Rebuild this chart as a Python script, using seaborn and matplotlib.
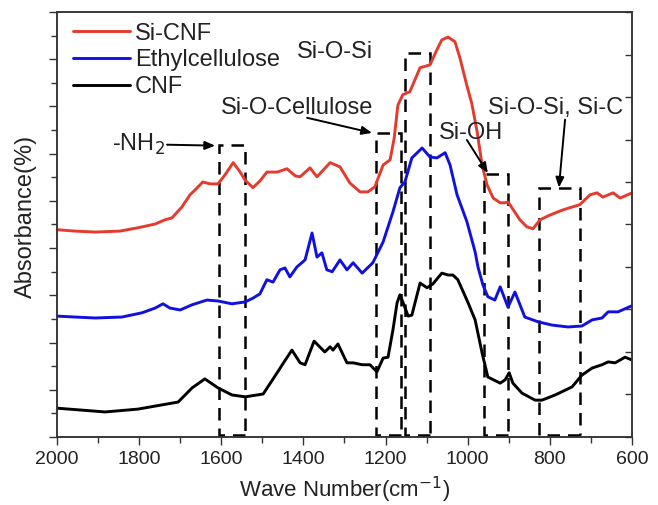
import numpy as np
import pandas as pd
import matplotlib
matplotlib.use('Agg')
import matplotlib.pyplot as plt
import seaborn as sns
from matplotlib.patches import Rectangle
from matplotlib.ticker import MultipleLocator, NullFormatter

# spectra (wavenumber in cm-1, absorbance in arbitrary offset units)
sicnf_wn = [2000, 1956, 1907, 1847, 1803, 1761, 1737, 1720, 1696, 1676, 1664, 1645, 1627, 1608,
            1591, 1571, 1554, 1542, 1523, 1506, 1489, 1464, 1440, 1420, 1408, 1384, 1367, 1335,
            1311, 1287, 1262, 1243, 1226, 1206, 1189, 1179, 1170, 1158, 1141, 1116, 1092, 1075,
            1063, 1048, 1031, 1019, 1002, 990, 977, 965, 953, 938, 921, 909, 902, 892, 873, 856,
            841, 824, 800, 768, 727, 702, 685, 671, 646, 629, 600]
sicnf_abs = [4.39, 4.36, 4.34, 4.36, 4.43, 4.51, 4.60, 4.64, 4.87, 5.13, 5.23, 5.40, 5.36, 5.36,
             5.55, 5.81, 5.61, 5.44, 5.28, 5.42, 5.61, 5.61, 5.68, 5.53, 5.51, 5.70, 5.51, 5.81,
             5.72, 5.38, 5.19, 5.19, 5.30, 5.76, 5.87, 6.33, 7.03, 7.25, 7.31, 7.82, 7.88, 8.20,
             8.41, 8.47, 8.37, 8.03, 7.44, 7.06, 6.46, 5.76, 5.34, 5.06, 4.96, 4.96, 4.98, 4.85,
             4.60, 4.45, 4.41, 4.60, 4.70, 4.81, 4.92, 5.13, 5.17, 5.08, 5.17, 5.06, 5.17]

ethyl_wn = [2000, 1956, 1907, 1842, 1793, 1761, 1742, 1725, 1700, 1671, 1635, 1608, 1574, 1542,
            1523, 1506, 1489, 1474, 1457, 1445, 1433, 1416, 1396, 1379, 1367, 1355, 1343, 1330,
            1311, 1294, 1279, 1257, 1231, 1206, 1182, 1165, 1153, 1136, 1111, 1092, 1075, 1055,
            1043, 1026, 1002, 982, 975, 963, 951, 934, 921, 902, 885, 861, 829, 795, 756, 722,
            697, 673, 658, 634, 600]
ethyl_abs = [2.56, 2.54, 2.52, 2.54, 2.63, 2.73, 2.82, 2.73, 2.69, 2.80, 2.90, 2.88, 2.82, 2.86,
             2.94, 3.03, 3.33, 3.28, 3.54, 3.58, 3.39, 3.60, 3.75, 4.32, 3.81, 3.90, 3.54, 3.50,
             3.75, 3.54, 3.69, 3.47, 3.69, 4.13, 4.77, 5.28, 5.40, 5.91, 6.12, 5.93, 5.91, 6.02,
             5.76, 5.13, 4.56, 3.92, 3.60, 3.22, 2.97, 2.90, 3.18, 2.75, 3.07, 2.54, 2.44, 2.37,
             2.33, 2.35, 2.48, 2.52, 2.65, 2.65, 2.78]

cnf_wn = [2000, 1883, 1803, 1705, 1671, 1640, 1608, 1574, 1542, 1498, 1464, 1450, 1428, 1408,
          1396, 1374, 1348, 1335, 1328, 1316, 1294, 1279, 1257, 1238, 1221, 1206, 1194, 1182,
          1172, 1165, 1158, 1145, 1136, 1116, 1099, 1085, 1063, 1048, 1036, 1024, 999, 982, 965,
          951, 921, 909, 899, 890, 868, 836, 819, 787, 746, 722, 697, 673, 658, 641, 617, 600]
cnf_abs = [0.61, 0.53, 0.59, 0.74, 1.04, 1.23, 1.04, 0.89, 0.85, 0.91, 1.36, 1.55, 1.84, 1.57,
           1.53, 2.03, 1.80, 1.91, 1.84, 1.97, 1.57, 1.57, 1.53, 1.53, 1.38, 1.67, 1.69, 2.27,
           2.84, 3.01, 2.86, 2.56, 2.58, 3.26, 3.16, 3.24, 3.47, 3.43, 3.43, 3.33, 2.84, 2.48,
           1.78, 1.27, 1.14, 1.21, 1.36, 1.14, 0.93, 0.78, 0.78, 0.89, 1.06, 1.31, 1.46, 1.53,
           1.59, 1.57, 1.69, 1.63]

# dashed band boxes: high wavenumber, low wavenumber, top
band_hi = [1605, 1223, 1153, 960, 826]
band_lo = [1542, 1162, 1092, 902, 727]
band_top = [6.19, 6.44, 8.14, 5.57, 5.28]

labels = ['-NH$_2$', 'Si-O-Cellulose', 'Si-O-Si', 'Si-OH', 'Si-O-Si, Si-C']
label_x = [1866, 1416, 1323, 992, 787]
label_y = [6.19, 6.97, 8.16, 6.44, 6.97]
label_ha = ['left', 'center', 'center', 'center', 'center']
# arrows (tail -> head), Si-O-Si has none
arrow_from = [(1732, 6.19), (1391, 6.76), None, (1002, 6.29), (763, 6.72)]
arrow_to = [(1615, 6.17), (1233, 6.44), None, (951, 5.59), (778, 5.28)]

df = pd.concat([
    pd.DataFrame({'wn': sicnf_wn, 'abs': sicnf_abs, 'sample': 'Si-CNF'}),
    pd.DataFrame({'wn': ethyl_wn, 'abs': ethyl_abs, 'sample': 'Ethylcellulose'}),
    pd.DataFrame({'wn': cnf_wn, 'abs': cnf_abs, 'sample': 'CNF'}),
])

sns.set_style('ticks')
plt.rcParams['font.family'] = ['Liberation Sans', 'DejaVu Sans']
txt = '#222222'

fig = plt.figure(figsize=(6.58, 5.05), dpi=100)
ax = fig.add_axes([0.0866, 0.1347, 0.8739, 0.8415])

sns.lineplot(data=df, x='wn', y='abs', hue='sample', estimator=None, sort=False,
             palette={'Si-CNF': '#e53a2e', 'Ethylcellulose': '#1010e0', 'CNF': '#000000'},
             hue_order=['Si-CNF', 'Ethylcellulose', 'CNF'], linewidth=2.1, ax=ax)

for hi, lo, top in zip(band_hi, band_lo, band_top):
    ax.add_patch(Rectangle((lo, 0.05), hi - lo, top - 0.05, fill=False, edgecolor='black',
                           linewidth=1.8, linestyle=(0, (5, 3.2))))

for lab, x, y, ha in zip(labels, label_x, label_y, label_ha):
    ax.text(x, y, lab, ha=ha, va='center', fontsize=17, color=txt)

for a, b in zip(arrow_from, arrow_to):
    if a is None:
        continue
    ax.annotate('', xy=b, xytext=a,
                arrowprops=dict(arrowstyle='-|>,head_length=0.6,head_width=0.25',
                                color='black', lw=1.4, shrinkA=0, shrinkB=0))

ax.set_xlim(2000, 600)
ax.set_ylim(0, 9)
ax.xaxis.set_major_locator(MultipleLocator(200))
ax.xaxis.set_minor_locator(MultipleLocator(100))
ax.yaxis.set_major_locator(MultipleLocator(1))
ax.yaxis.set_minor_locator(MultipleLocator(0.5))
ax.yaxis.set_major_formatter(NullFormatter())
ax.tick_params(axis='x', which='major', direction='out', length=6, width=1, labelsize=14,
               colors='#333333', labelcolor=txt, pad=4)
ax.tick_params(axis='x', which='minor', direction='out', length=4, width=1, colors='#333333')
ax.tick_params(axis='y', which='major', direction='out', length=6, width=1, colors='#333333')
ax.tick_params(axis='y', which='minor', direction='out', length=4, width=1, colors='#333333')

ax2 = ax.twinx()
ax2.set_ylim(0, 10)
ax2.yaxis.set_major_locator(MultipleLocator(1))
ax2.yaxis.set_major_formatter(NullFormatter())
ax2.tick_params(axis='y', direction='in', length=5, width=1, colors='#333333')

for a in (ax, ax2):
    for s in a.spines.values():
        s.set_visible(True)
        s.set_color('#333333')
        s.set_linewidth(1.1)

ax.set_xlabel('Wave Number(cm$^{-1}$)', fontsize=16, color=txt)
ax.xaxis.set_label_coords(0.5, -0.09)
ax.set_ylabel('Absorbance(%)', fontsize=17, color=txt)
ax.yaxis.set_label_coords(-0.035, 0.52)

ax.legend(loc='upper left', bbox_to_anchor=(0.028, 0.975), frameon=False, fontsize=17,
          handlelength=2.4, handletextpad=0.21, labelspacing=0.2, borderpad=0,
          borderaxespad=0, labelcolor=txt)

fig.savefig('out.png', dpi=100)
